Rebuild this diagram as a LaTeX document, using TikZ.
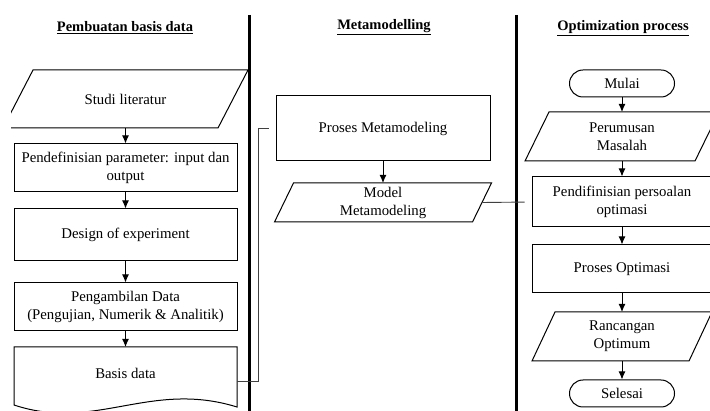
\documentclass[tikz,border=0pt]{standalone}
\usepackage{fontspec}
\setmainfont{Liberation Serif}
\usetikzlibrary{arrows.meta}
\usetikzlibrary{positioning}

\tikzset{
  flowtext/.style={font=\fontsize{14.8}{18}\selectfont, align=center},
  procbox/.style={flowtext, rectangle, draw=black, line width=1pt},
  iobox/.style={flowtext, rectangle, draw=none, outer sep=0pt},
  ioline/.style={draw=black, line width=1pt, line join=miter},
  termbox/.style={flowtext, rectangle, rounded corners=13.5pt, draw=black, line width=1pt},
  docbox/.style={flowtext, rectangle, draw=none, outer sep=0pt},
  docline/.style={draw=black, line width=1pt},
  lanetitle/.style={font=\fontsize{14.5}{18}\selectfont\bfseries},
  laneline/.style={line width=3pt},
  flowarr/.style={-{Latex[length=8pt,width=7pt]}, line width=1pt},
  linkline/.style={draw=black!75, line width=0.9pt}
}

% outline of an input/output box around node #1, half slant #2
\newcommand{\ioshape}[2]{%
  \draw [ioline] ([xshift=-#2]#1.south west) -- ([xshift=#2]#1.north west)
    -- ([xshift=#2]#1.north east) -- ([xshift=-#2]#1.south east) -- cycle;}

\begin{document}
\begin{tikzpicture}[x=1pt, y=-1pt]
\useasboundingbox (0,0) rectangle (710,411);
\clip (11,0) rectangle (710,411);
% lane titles
\node [lanetitle] (tbasis) at (125,28) {\underline{Pembuatan basis data}};
\node [lanetitle] (tmeta) at (384,27) {\underline{Metamodelling}};
\node [lanetitle] (topt) at (623,28) {\underline{Optimization process}};
% lane separators
\coordinate (laneAtop) at (249,15);
\coordinate (laneAbot) at (249,411);
\coordinate (laneBtop) at (516.5,15);
\coordinate (laneBbot) at (516.5,411);
\draw [laneline] (laneAtop) -- (laneAbot);
\draw [laneline] (laneBtop) -- (laneBbot);
% basis data
\node [iobox, minimum width=215pt, minimum height=58pt] (studi) at (125.5,99) {Studi literatur};
\ioshape{studi}{15pt}
\node [procbox, minimum width=223pt, minimum height=48pt] (pendef) at (125.5,168) {Pendefinisian parameter: input dan\\output};
\node [procbox, minimum width=223pt, minimum height=52pt] (doe) at (125.5,235) {Design of experiment};
\node [procbox, minimum width=223pt, minimum height=48pt] (ambil) at (125.5,307) {Pengambilan Data\\(Pengujian, Numerik \& Analitik)};
\node [docbox, minimum width=223pt, minimum height=52pt] (basis) at (125.5,373) {Basis data};
\draw [docline] (basis.north west) -- (basis.north east) -- ([yshift=-8pt]basis.south east)
  .. controls (150,380) and (95,432) .. ([yshift=-6pt]basis.south west) -- cycle;
\draw [flowarr] (studi) -- (pendef);
\draw [flowarr] (pendef) -- (doe);
\draw [flowarr] (doe) -- (ambil);
\draw [flowarr] (ambil) -- (basis);
% metamodelling
\node [procbox, minimum width=214pt, minimum height=65pt] (procmeta) at (383,128.5) {Proses Metamodeling};
\node [iobox, minimum width=198pt, minimum height=39pt] (model) at (383,202.5) {Model\\Metamodeling};
\ioshape{model}{9.5pt}
\draw [flowarr] (procmeta) -- (model);
% optimization
\node [termbox, minimum width=105pt, minimum height=27pt] (mulai) at (622,83.5) {Mulai};
\node [iobox, minimum width=170pt, minimum height=49pt] (rumus) at (622,136.5) {Perumusan\\Masalah};
\ioshape{rumus}{12pt}
\node [procbox, minimum width=180pt, minimum height=50pt] (persoal) at (622,202) {Pendifinisian persoalan\\optimasi};
\node [procbox, minimum width=180pt, minimum height=48pt] (procopt) at (622,269) {Proses Optimasi};
\node [iobox, minimum width=157pt, minimum height=49pt] (rancang) at (622,336.5) {Rancangan\\Optimum};
\ioshape{rancang}{11.5pt}
\node [termbox, minimum width=105pt, minimum height=27pt] (selesai) at (622,393.5) {Selesai};
\draw [flowarr] (mulai) -- (rumus);
\draw [flowarr] (rumus) -- (persoal);
\draw [flowarr] (persoal) -- (procopt);
\draw [flowarr] (procopt) -- (rancang);
\draw [flowarr] (rancang) -- (selesai);
% links between lanes
\draw [linkline, shorten >=7pt] ([yshift=-8pt]basis.east) -- ++(21,0) |- (procmeta.west);
\draw [linkline, shorten >=7pt] (model.east) -- (persoal.west);
\end{tikzpicture}
\end{document}
